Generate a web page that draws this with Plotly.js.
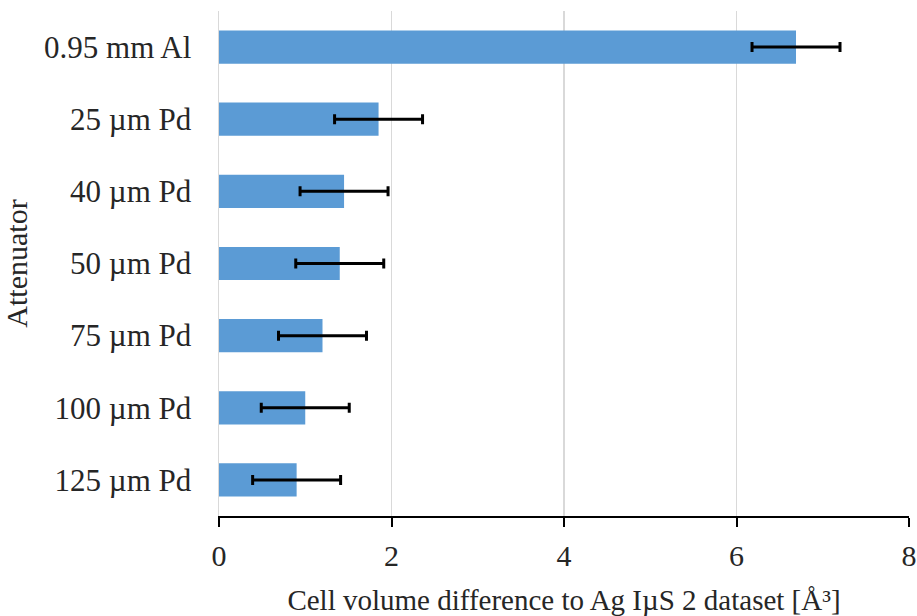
<!DOCTYPE html>
<html><head><meta charset="utf-8">
<script src="https://cdn.plot.ly/plotly-3.0.1.min.js"></script>
<style>html,body{margin:0;padding:0;background:#fff}</style>
</head><body>
<div id="chart" style="width:917px;height:616px"></div>
<script>
const categories = ["0.95 mm Al", "25 µm Pd", "40 µm Pd", "50 µm Pd", "75 µm Pd", "100 µm Pd", "125 µm Pd"];
const values = [6.69, 1.85, 1.45, 1.40, 1.20, 1.00, 0.90];
const errors = [0.51, 0.51, 0.51, 0.51, 0.51, 0.51, 0.51];
const xTicks = [0, 2, 4, 6, 8];

const font = "Liberation Serif, Times New Roman, serif";
Plotly.newPlot("chart", [{
  type: "bar", orientation: "h",
  y: categories, x: values,
  marker: {color: "#5B9BD5"},
  error_x: {type: "data", array: errors, visible: true, color: "#000", thickness: 3, width: 5}
}], {
  width: 917, height: 616,
  margin: {l: 219, r: 8, t: 11, b: 100},
  bargap: 0.54,
  paper_bgcolor: "#fff", plot_bgcolor: "#fff",
  font: {family: font, color: "#262626", size: 30},
  showlegend: false,
  xaxis: {
    range: [0, 8], tickvals: xTicks, ticktext: xTicks.map(String),
    showgrid: true, gridcolor: "#d9d9d9", gridwidth: 1.5,
    showline: true, linecolor: "#000", linewidth: 2,
    ticks: "outside", ticklen: 9, tickwidth: 2, tickcolor: "#000",
    ticklabelstandoff: 3,
    zeroline: false,
    tickfont: {size: 30, family: font},
    title: {text: "Cell volume difference to Ag IµS 2 dataset [Å³]", font: {size: 29, family: font}, standoff: 24}
  },
  yaxis: {
    autorange: "reversed", type: "category",
    showline: true, linecolor: "#d9d9d9", linewidth: 1.5,
    showgrid: false, ticks: "", ticklabelstandoff: 20,
    tickfont: {size: 31, family: font},
    title: {text: "Attenuator", font: {size: 30, family: font}, standoff: 14}
  }
}, {displayModeBar: false, staticPlot: true});
</script>
</body></html>
